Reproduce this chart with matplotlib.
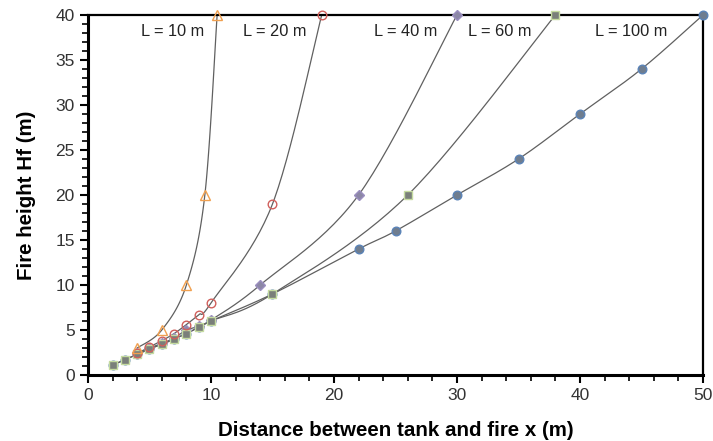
import numpy as np
import matplotlib.pyplot as plt
from matplotlib.ticker import MultipleLocator

plt.rcParams['font.family'] = ['Liberation Sans', 'DejaVu Sans']

# data
x10 = [4, 6, 8, 9.5, 10.5]
y10 = [3.0, 5.0, 10, 20, 40]

x20 = [4, 5, 6, 7, 8, 9, 10, 15, 19]
y20 = [2.4, 3.1, 3.8, 4.6, 5.6, 6.7, 8.0, 19, 40]

x40 = [4, 5, 6, 7, 8, 9, 10, 14, 22, 30]
y40 = [2.4, 3.0, 3.5, 4.1, 5.0, 5.4, 6.1, 10, 20, 40]

x60 = [2, 3, 4, 5, 6, 7, 8, 9, 10, 15, 26, 38]
y60 = [1.1, 1.7, 2.3, 2.9, 3.4, 4.0, 4.6, 5.3, 6.0, 9.0, 20, 40]

x100 = [2, 3, 4, 5, 6, 7, 8, 9, 10, 15, 22, 25, 30, 35, 40, 45, 50]
y100 = [1.1, 1.7, 2.3, 2.9, 3.4, 4.0, 4.6, 5.3, 6.0, 9.0, 14, 16, 20, 24, 29, 34, 40]

labels = ['L = 10 m', 'L = 20 m', 'L = 40 m', 'L = 60 m', 'L = 100 m']
label_x = [6.9, 15.2, 25.8, 33.5, 44.2]


def smooth(x, y, n=30):
    # excel-like smoothed line (bezier through points)
    p = np.column_stack([x, y]).astype(float)
    p = np.vstack([p[0], p, p[-1]])
    out = []
    for i in range(1, len(p) - 2):
        p0, p1, p2, p3 = p[i - 1], p[i], p[i + 1], p[i + 2]
        c1 = p1 + (p2 - p0) / 6
        c2 = p2 - (p3 - p1) / 6
        t = np.linspace(0, 1, n)[:, None]
        seg = ((1 - t) ** 3 * p1 + 3 * (1 - t) ** 2 * t * c1
               + 3 * (1 - t) * t ** 2 * c2 + t ** 3 * p2)
        out.append(seg)
    s = np.vstack(out)
    return s[:, 0], s[:, 1]


fig = plt.figure(figsize=(7.13, 4.41), dpi=100)
ax = fig.add_axes([0.1234, 0.1497, 0.8626, 0.8163])

line_c = '#606060'
# drawing order matters: squares sit over diamonds/blue dots at small x
series = [
    (x100, y100, dict(marker='o', ms=6.2, mfc='#6f7d8f', mec='#5b84b8', mew=1)),
    (x40, y40, dict(marker='D', ms=5, mfc='#8c87a6', mec='#9b8fc0', mew=1)),
    (x60, y60, dict(marker='s', ms=5.8, mfc='#7a7f7a', mec='#c5dba0', mew=1)),
    (x20, y20, dict(marker='o', ms=6.2, mfc='none', mec='#d0605c', mew=1)),
    (x10, y10, dict(marker='^', ms=6.5, mfc='none', mec='#f0a050', mew=1)),
]
for xs, ys, st in series:
    sx, sy = smooth(xs, ys)
    ax.plot(sx, sy, color=line_c, lw=0.9, zorder=2, clip_on=False)
for xs, ys, st in series:
    ax.plot(xs, ys, ls='none', zorder=3, clip_on=False, **st)

for lab, lx in zip(labels, label_x):
    ax.text(lx, 38.2, lab, ha='center', va='center', fontsize=11.8, color='#222222')

ax.set_xlim(0, 50)
ax.set_ylim(0, 40)
ax.xaxis.set_major_locator(MultipleLocator(10))
ax.xaxis.set_minor_locator(MultipleLocator(2))
ax.yaxis.set_major_locator(MultipleLocator(5))
ax.yaxis.set_minor_locator(MultipleLocator(1))
ax.tick_params(which='major', length=6, width=1.5, labelsize=12.5,
               labelcolor='#333333', direction='out')
ax.tick_params(which='minor', length=4, width=1.2, direction='out')
for s in ax.spines.values():
    s.set_linewidth(1.6)
    s.set_color('black')
ax.spines['left'].set_linewidth(2.2)
ax.spines['bottom'].set_linewidth(2.2)

ax.set_xlabel('Distance between tank and fire x (m)', fontsize=14.8,
              fontweight='bold', labelpad=13)
ax.set_ylabel('Fire height Hf (m)', fontsize=14.8, fontweight='bold', labelpad=14)

fig.savefig('out.png', dpi=100)
